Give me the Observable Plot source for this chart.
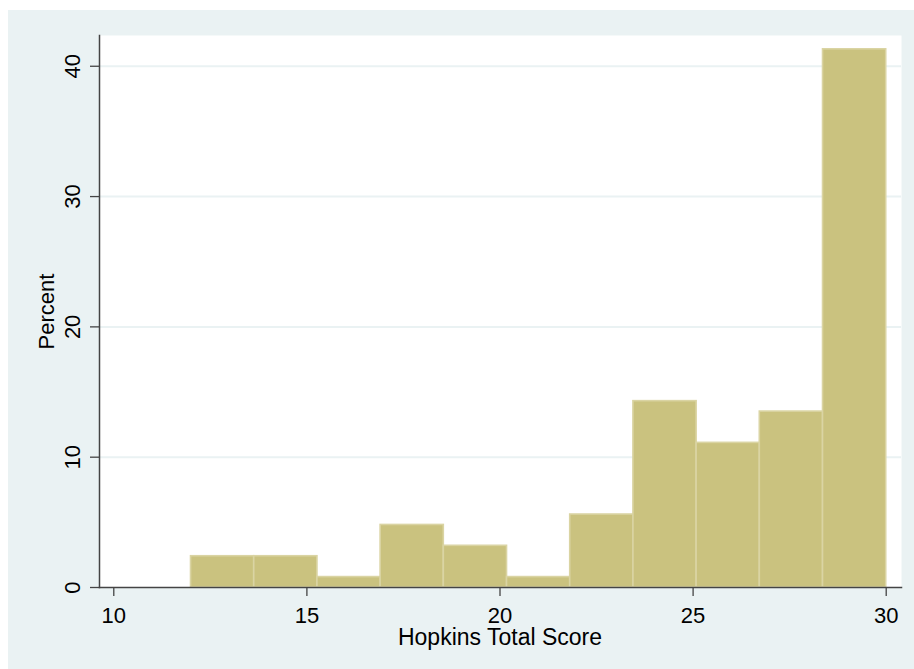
<!DOCTYPE html>
<html>
<head>
<meta charset="utf-8">
<script src="https://cdn.jsdelivr.net/npm/d3@7"></script>
<script src="https://cdn.jsdelivr.net/npm/@observablehq/plot@0.6"></script>
<style>
  html, body { margin: 0; padding: 0; background: #ffffff; }
  #chart { position: absolute; left: 8px; top: 10px; }
  #chart svg { display: block; background: #eaf2f3; }
</style>
</head>
<body>
<div id="chart"></div>
<script>
// Histogram of Hopkins Total Score (percent per bin)
const binEdges = [12, 13.636, 15.273, 16.909, 18.545, 20.182, 21.818, 23.455, 25.091, 26.727, 28.364, 30];
const percents = [2.4, 2.4, 0.8, 4.8, 3.2, 0.8, 5.6, 14.3, 11.1, 13.5, 41.3];
const xTicks = [10, 15, 20, 25, 30];
const yTicks = [0, 10, 20, 30, 40];
const gridTicks = [10, 20, 30, 40];
const xTitle = "Hopkins Total Score";
const yTitle = "Percent";

const bins = percents.map((p, i) => ({x1: binEdges[i], x2: binEdges[i + 1], y: p}));

const font = "Liberation Sans, Arial, Helvetica, sans-serif";
const axisColor = "#444444";

const chart = Plot.plot({
  width: 906,
  height: 659,
  marginLeft: 91,
  marginRight: 13,
  marginTop: 25,
  marginBottom: 82,
  style: {fontFamily: font, background: "#eaf2f3", color: "#000"},
  x: {domain: [9.63, 30.396], axis: null},
  y: {domain: [0, 42.36], axis: null},
  marks: [
    Plot.frame({fill: "white", stroke: null}),
    Plot.ruleY(gridTicks, {stroke: "#eaf2f3", strokeWidth: 2}),
    Plot.rectY(bins, {x1: "x1", x2: "x2", y: "y", fill: "#cac27f", stroke: "#dad4a3", strokeWidth: 1.6}),
    Plot.frame({anchor: "left", stroke: axisColor, strokeWidth: 1.5}),
    Plot.frame({anchor: "bottom", stroke: axisColor, strokeWidth: 1.5}),
    Plot.axisY({ticks: yTicks, tickSize: 9, text: null, label: null, stroke: axisColor, strokeWidth: 1.3}),
    Plot.text(yTicks, {y: d => d, text: d => String(d), frameAnchor: "left", dx: -26.5, rotate: -90,
      textAnchor: "middle", lineAnchor: "middle", fontSize: 22, fill: "#000"}),
    Plot.axisX({ticks: xTicks, tickSize: 9, tickPadding: 11, fontSize: 22, stroke: axisColor, strokeWidth: 1.3, fill: "#000", label: null}),
    Plot.text([xTitle], {x: 20, frameAnchor: "bottom", dy: 57, lineAnchor: "bottom", textAnchor: "middle", fontSize: 23, fill: "#000"}),
    Plot.text([yTitle], {frameAnchor: "left", dx: -52.5, rotate: -90, textAnchor: "middle", lineAnchor: "middle", fontSize: 22, fill: "#000"})
  ]
});
document.getElementById("chart").appendChild(chart);
</script>
</body>
</html>
